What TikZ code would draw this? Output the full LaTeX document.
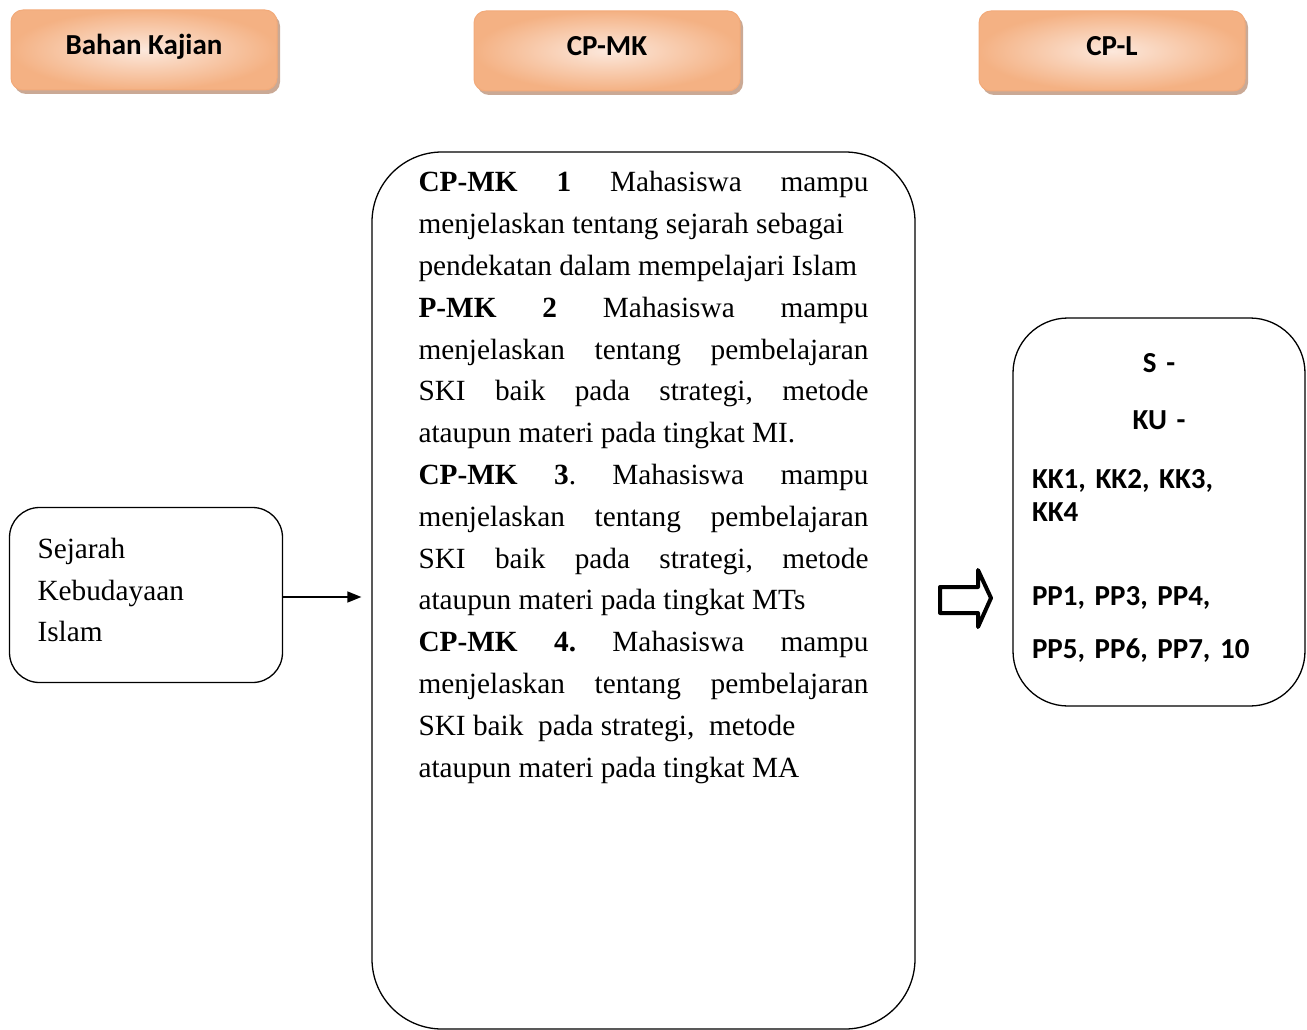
\documentclass[tikz,border=0pt]{standalone}
\usepackage{fontspec}
\setmainfont{Liberation Serif}
\newfontfamily\calibri{Carlito}
\usetikzlibrary{shadows,arrows.meta}
\definecolor{headlight}{HTML}{FCE8DC}
\definecolor{headdark}{HTML}{F4B183}
\definecolor{headline}{HTML}{F2AA7A}
\definecolor{headshadow}{HTML}{C4A08A}
\tikzset{
  head/.style={rounded corners=12pt,draw=headline,line width=1pt,inner color=headlight,outer color=headdark,
    minimum width=266pt,minimum height=80pt,text height=20pt,text depth=10pt,font=\calibri\bfseries\fontsize{29}{33}\selectfont,
    drop shadow={shadow xshift=3pt,shadow yshift=-4pt,fill=headshadow,opacity=.9}},
  plainbox/.style={draw,line width=1.3pt,inner sep=0pt},
  serif/.style={font=\fontsize{29.3}{41.8}\selectfont},
}
\begin{document}
\begin{tikzpicture}[x=1pt,y=-1pt]
\useasboundingbox (0,0) rectangle (1307,1030);
\node [head] (bk) at (144,50) {Bahan Kajian};
\node [head] (hcpmk) at (607,51) {CP-MK};
\node [head] (hcpl) at (1112,51) {CP-L};

\node [plainbox,rounded corners=30pt,minimum width=273pt,minimum height=175pt,serif,text width=217pt,align=left,inner xsep=28pt] (src) at (146,595) {Sejarah\\Kebudayaan\\Islam\par\vskip10pt\hrule height0pt};
\node [plainbox,rounded corners=70pt,minimum width=543pt,minimum height=877pt] (cpmk) at (643.5,590.5) {};
\node [serif,text width=450pt,align=justify,inner sep=0pt,anchor=north] (cpmktext) at ([yshift=-20pt]cpmk.north) {%
\textbf{CP-MK\hfill 1}\hfill Mahasiswa\hfill mampu\\
menjelaskan tentang sejarah sebagai\\
pendekatan dalam mempelajari Islam\\
\textbf{P-MK\hfill 2}\hfill Mahasiswa\hfill mampu\\
menjelaskan\hfill tentang\hfill pembelajaran\\
SKI\hfill baik\hfill pada\hfill strategi,\hfill metode\\
ataupun materi pada tingkat MI.\\
\textbf{CP-MK\hfill 3}.\hfill Mahasiswa\hfill mampu\\
menjelaskan\hfill tentang\hfill pembelajaran\\
SKI\hfill baik\hfill pada\hfill strategi,\hfill metode\\
ataupun materi pada tingkat MTs\\
\textbf{CP-MK\hfill 4.}\hfill Mahasiswa\hfill mampu\\
menjelaskan\hfill tentang\hfill pembelajaran\\
SKI\ baik\ \ pada strategi,\ \ metode\\
ataupun materi pada tingkat MA};

\node [plainbox,rounded corners=55pt,minimum width=292pt,minimum height=388pt,text width=254pt,align=left,inner xsep=19pt,
  font=\calibri\bfseries\fontsize{29}{33}\selectfont] (cpl) at (1159,512) {%
\makebox[\linewidth]{S -}\\[24pt]
\makebox[\linewidth]{KU -}\\[26pt]
KK1, KK2, KK3,\\
KK4\\[51pt]
PP1, PP3, PP4,\\[20pt]
PP5, PP6, PP7, 10\par\vskip8pt\hrule height0pt};

\draw [-{Triangle[length=14pt,width=11pt]},line width=1.5pt,shorten >=10pt] ([yshift=-2pt]src.east) -- ([yshift=-2pt]src.east -| cpmk.west);
% outlined block arrow
\draw [line width=4pt,line join=round] (940,587) -- (978,587) -- (978,570) -- (991,598) -- (978,627) -- (978,613) -- (940,613) -- cycle;
\end{tikzpicture}
\end{document}
